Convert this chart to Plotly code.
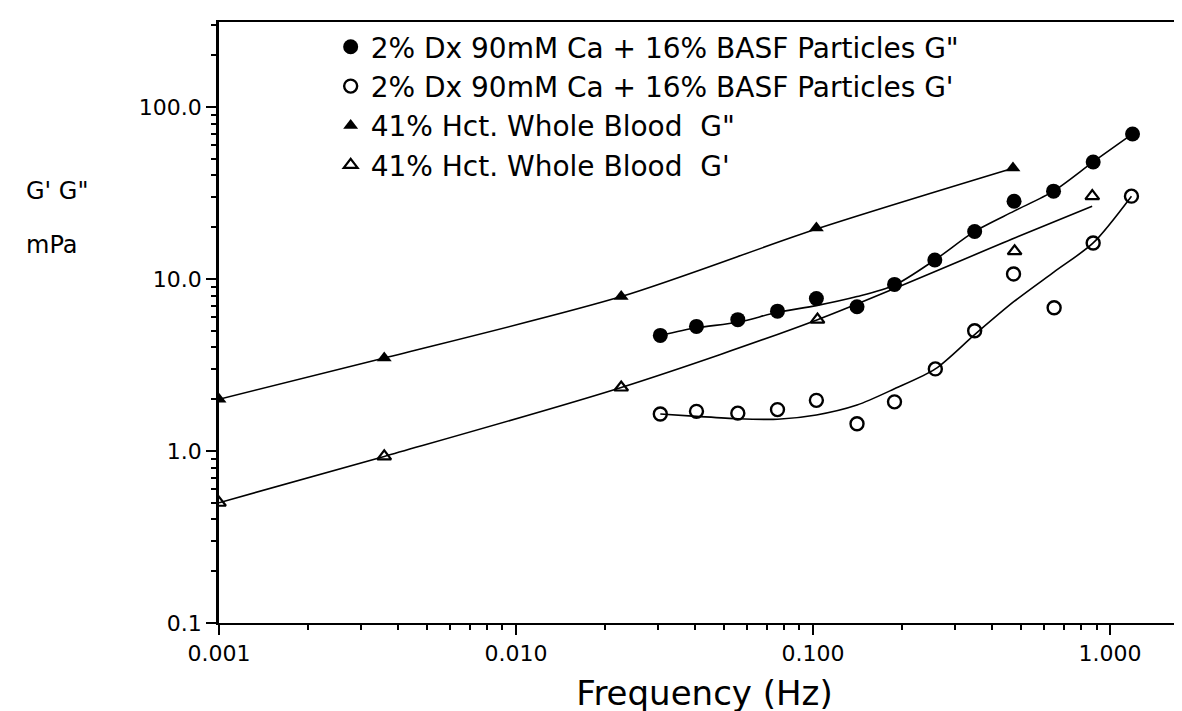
import plotly.graph_objects as go

# ---------------- data ----------------
# 2% Dx 90mM Ca + 16% BASF particles
particle_freq_G2 = [0.0306, 0.0405, 0.0558, 0.0759, 0.1026, 0.1406, 0.188, 0.257, 0.350, 0.475, 0.645, 0.877, 1.19]
particle_G2 = [4.7, 5.3, 5.8, 6.5, 7.7, 6.9, 9.3, 12.9, 18.9, 28.3, 32.4, 47.9, 69.7]
particle_freq_G1 = [0.0306, 0.0405, 0.0558, 0.0759, 0.1026, 0.1406, 0.188, 0.258, 0.350, 0.473, 0.648, 0.877, 1.18]
particle_G1 = [1.64, 1.70, 1.66, 1.74, 1.97, 1.44, 1.93, 3.0, 5.0, 10.7, 6.8, 16.2, 30.3]

# 41% Hct whole blood
blood_freq_G2 = [0.001, 0.0036, 0.0226, 0.1026, 0.471]
blood_G2 = [2.0, 3.47, 7.9, 19.8, 44.2]
blood_freq_G1 = [0.001, 0.0036, 0.0226, 0.1035, 0.477, 0.871]
blood_G1 = [0.5, 0.93, 2.34, 5.8, 14.5, 30.3]

# fitted curves as drawn in the picture
fit_particle_G2_f = [0.0306, 0.0405, 0.0558, 0.0759, 0.1026, 0.1406, 0.188, 0.257, 0.350, 0.475, 0.645, 0.877, 1.19]
fit_particle_G2 = [4.7, 5.2, 5.6, 6.4, 7.0, 7.9, 9.2, 12.9, 18.9, 24.8, 32.4, 47.9, 69.7]
fit_particle_G1_f = [0.0306, 0.0405, 0.0558, 0.0759, 0.1026, 0.1406, 0.188, 0.258, 0.350, 0.475, 0.648, 0.877, 1.18]
fit_particle_G1 = [1.64, 1.59, 1.54, 1.53, 1.62, 1.85, 2.3, 3.0, 4.75, 7.4, 11.0, 16.2, 30.3]
fit_blood_G2_f = [0.001, 0.0036, 0.0226, 0.1026, 0.471]
fit_blood_G2 = [2.0, 3.47, 7.9, 19.5, 44.0]
fit_blood_G1_f = [0.001, 0.0036, 0.0226, 0.1035, 0.477, 0.87]
fit_blood_G1 = [0.5, 0.93, 2.34, 5.8, 17.3, 26.5]

x_tickvals = [0.001, 0.01, 0.1, 1]
x_ticktext = ["0.001", "0.010", "0.100", "1.000"]
y_tickvals = [0.1, 1, 10, 100]
y_ticktext = ["0.1", "1.0", "10.0", "100.0"]
minor_mult = [2, 3, 4, 5, 6, 7, 8, 9]
x_minor = [m * d for d in [0.001, 0.01, 0.1, 1] for m in minor_mult]
y_minor = [m * d for d in [0.1, 1, 10, 100] for m in minor_mult]

labels = [
    '2% Dx 90mM Ca + 16% BASF Particles G"',
    "2% Dx 90mM Ca + 16% BASF Particles G'",
    '41% Hct. Whole Blood  G"',
    "41% Hct. Whole Blood  G'",
]

FONT = "DejaVu Sans"
fig = go.Figure()

line_style = dict(color="black", width=1.6, shape="spline", smoothing=0.8)
for fx, fy in [(fit_particle_G2_f, fit_particle_G2), (fit_particle_G1_f, fit_particle_G1),
               (fit_blood_G2_f, fit_blood_G2), (fit_blood_G1_f, fit_blood_G1)]:
    fig.add_trace(go.Scatter(x=fx, y=fy, mode="lines", line=line_style,
                             showlegend=False, hoverinfo="skip"))

fig.add_trace(go.Scatter(x=particle_freq_G2, y=particle_G2, mode="markers", name=labels[0],
                         legendgroup="a",
                         marker=dict(symbol="circle", size=15, color="black")))
fig.add_trace(go.Scatter(x=particle_freq_G1, y=particle_G1, mode="markers", name=labels[1],
                         legendgroup="b",
                         marker=dict(symbol="circle-open", size=13, color="black",
                                     line=dict(width=2.4, color="black"))))
fig.add_trace(go.Scatter(x=blood_freq_G2, y=blood_G2, mode="markers", name=labels[2],
                         legendgroup="c",
                         marker=dict(symbol="triangle-up", size=13, color="black")))
fig.add_trace(go.Scatter(x=blood_freq_G1, y=blood_G1, mode="markers", name=labels[3],
                         legendgroup="d",
                         marker=dict(symbol="triangle-up-open", size=12, color="black",
                                     line=dict(width=2.2, color="black"))))

fig.update_layout(
    width=1182, height=711,
    margin=dict(l=211, r=0, t=14, b=96),
    paper_bgcolor="white", plot_bgcolor="white",
    font=dict(family=FONT, color="black"),
    legend=dict(x=0.115, y=1.0, xanchor="left", yanchor="top",
                font=dict(family=FONT, size=28, color="black"),
                bgcolor="rgba(0,0,0,0)", tracegroupgap=0,
                itemsizing="trace"),
    xaxis=dict(type="log", range=[-3, 0.269], tickvals=x_tickvals, ticktext=x_ticktext,
               showline=True, linecolor="black", linewidth=2, mirror=True,
               ticks="outside", ticklen=10, tickwidth=2, tickcolor="black",
               tickfont=dict(family=FONT, size=22),
               minor=dict(tickvals=x_minor, ticks="outside", ticklen=5, tickwidth=1.5,
                          tickcolor="black", showgrid=False),
               showgrid=False, zeroline=False,
               title=dict(text="Frequency (Hz)", font=dict(family=FONT, size=34), standoff=16)),
    yaxis=dict(type="log", range=[-1, 2.494], tickvals=y_tickvals, ticktext=y_ticktext,
               showline=True, linecolor="black", linewidth=2.5,
               ticks="outside", ticklen=10, tickwidth=2, tickcolor="black",
               tickfont=dict(family=FONT, size=22),
               minor=dict(tickvals=y_minor, ticks="outside", ticklen=5, tickwidth=1.5,
                          tickcolor="black", showgrid=False),
               showgrid=False, zeroline=False),
)

# y-axis label lines, placed in paper coordinates
plot_w = 1182 - 211
plot_h = 711 - 14 - 96
fig.add_annotation(text="G' G\"", x=(16 - 211) / plot_w, y=(711 - 96 - 183) / plot_h,
                   xref="paper", yref="paper", xanchor="left", yanchor="middle",
                   showarrow=False, font=dict(family=FONT, size=24))
fig.add_annotation(text="mPa", x=(16 - 211) / plot_w, y=(711 - 96 - 237) / plot_h,
                   xref="paper", yref="paper", xanchor="left", yanchor="middle",
                   showarrow=False, font=dict(family=FONT, size=24))

fig.write_html("out.html")
